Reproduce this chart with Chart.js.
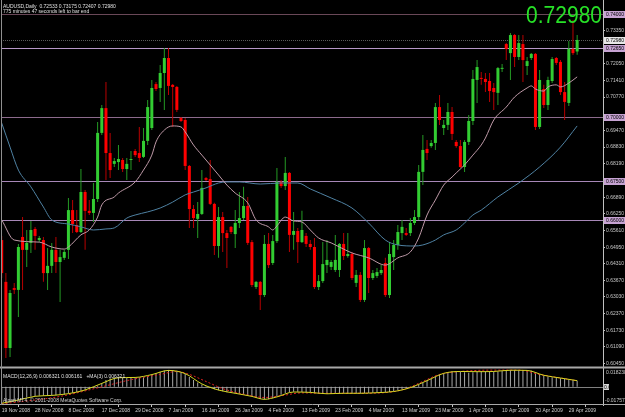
<!DOCTYPE html>
<html><head><meta charset="utf-8">
<script src="https://cdn.jsdelivr.net/npm/chart.js@4/dist/chart.umd.min.js"></script>
<style>html,body{margin:0;padding:0;background:#000;overflow:hidden}</style>
</head><body>
<canvas id="c" width="625" height="417"></canvas>
<script>
// ---- categories (daily bars, incl. Sunday sessions) ----
const monthDays = [
  ['Nov', 2008, [19,20,21,23,24,25,26,27,28,30]],
  ['Dec', 2008, [1,2,3,4,5,7,8,9,10,11,12,14,15,16,17,18,19,21,22,23,24,28,29,30,31]],
  ['Jan', 2009, [1,2,4,5,6,7,8,9,11,12,13,14,15,16,18,19,20,21,22,23,25,26,27,28,29,30]],
  ['Feb', 2009, [1,2,3,4,5,6,8,9,10,11,12,13,15,16,17,18,19,20,22,23,24,25,26,27]],
  ['Mar', 2009, [1,2,3,4,5,6,8,9,10,11,12,13,15,16,17,18,19,20,22,23,24,25,26,27,29,30,31]],
  ['Apr', 2009, [1,2,3,5,6,7,8,9,10,12,13,14,15,16,17,19,20,21,22,23,24,26,27,28,29,30]],
  ['May', 2009, [1]]
];
const dates = [];
monthDays.forEach(([m, y, ds]) => ds.forEach(d => dates.push(d + ' ' + m + ' ' + y)));

// ---- AUDUSD daily OHLC ----
const opens = [0.6523,0.6361,0.6105,0.6337,0.6330,0.6535,0.6485,0.6512,0.6566,0.6523,
0.6523,0.6395,0.6423,0.6485,0.6438,0.6454,0.6485,0.6639,0.6581,0.6554,
0.6709,0.6636,0.6628,0.6682,0.6938,0.7034,0.6860,0.6818,0.6825,0.6833,
0.6798,0.6833,0.6868,0.6860,0.6845,0.6907,0.6957,0.7127,0.7112,0.7170,
0.7228,0.7124,0.7116,0.6996,0.6988,0.6810,0.6643,0.6605,0.6624,0.6763,
0.6759,0.6663,0.6500,0.6612,0.6550,0.6574,0.6546,0.6589,0.6608,0.6655,
0.6515,0.6341,0.6361,0.6310,0.6508,0.6434,0.6519,0.6748,0.6732,0.6783,
0.6543,0.6558,0.6515,0.6539,0.6508,0.6496,0.6341,0.6364,0.6426,0.6419,
0.6407,0.6407,0.6508,0.6461,0.6469,0.6357,0.6388,0.6291,0.6492,0.6376,
0.6384,0.6395,0.6434,0.6310,0.6457,0.6504,0.6550,0.6550,0.6550,0.6589,
0.6612,0.6787,0.6876,0.6887,0.6899,0.7038,0.6957,0.6969,0.7019,0.6903,
0.6887,0.6806,0.6903,0.6984,0.7143,0.7151,0.7147,0.7139,0.7112,0.7093,
0.7186,0.7282,0.7247,0.7317,0.7232,0.7282,0.7197,0.7228,0.7244,0.6961,
0.7108,0.7046,0.7139,0.7228,0.7213,0.7096,0.7054,0.7263,0.72533];
const highs = [0.6539,0.6395,0.6330,0.6357,0.6508,0.6612,0.6562,0.6597,0.6574,0.6539,
0.6535,0.6492,0.6512,0.6535,0.6485,0.6485,0.6686,0.6678,0.6639,0.6798,
0.6717,0.6678,0.6744,0.6980,0.7046,0.7135,0.6938,0.6841,0.6891,0.6841,
0.6841,0.6868,0.6876,0.6961,0.6957,0.7065,0.7143,0.7135,0.7201,0.7267,
0.7267,0.7127,0.7120,0.7000,0.6996,0.6814,0.6659,0.6670,0.6794,0.6767,
0.6833,0.6667,0.6651,0.6632,0.6562,0.6577,0.6639,0.6709,0.6729,0.6690,
0.6523,0.6364,0.6364,0.6543,0.6550,0.6543,0.6802,0.6756,0.6845,0.6787,
0.6632,0.6570,0.6636,0.6550,0.6523,0.6531,0.6388,0.6515,0.6523,0.6446,
0.6543,0.6512,0.6550,0.6550,0.6477,0.6407,0.6399,0.6523,0.6496,0.6407,
0.6415,0.6426,0.6454,0.6515,0.6523,0.6581,0.6601,0.6570,0.6608,0.6639,
0.6814,0.6930,0.6910,0.6910,0.7054,0.7085,0.6988,0.7054,0.7038,0.6910,
0.6910,0.6910,0.7007,0.7182,0.7220,0.7174,0.7170,0.7170,0.7131,0.7193,
0.7205,0.7286,0.7325,0.7321,0.7317,0.7317,0.7232,0.7247,0.7247,0.7182,
0.7124,0.7155,0.7232,0.7232,0.7220,0.7135,0.7294,0.7375,0.73175];
const lows = [0.6376,0.6066,0.6070,0.6314,0.6225,0.6330,0.6419,0.6473,0.6485,0.6515,
0.6361,0.6330,0.6395,0.6395,0.6283,0.6446,0.6450,0.6550,0.6550,0.6550,
0.6485,0.6620,0.6593,0.6670,0.6930,0.6756,0.6763,0.6806,0.6794,0.6787,
0.6756,0.6794,0.6845,0.6825,0.6841,0.6891,0.6949,0.7100,0.7058,0.7027,
0.7085,0.6961,0.7019,0.6980,0.6794,0.6570,0.6570,0.6531,0.6620,0.6752,
0.6659,0.6465,0.6454,0.6477,0.6415,0.6546,0.6492,0.6570,0.6601,0.6504,
0.6341,0.6333,0.6252,0.6302,0.6415,0.6426,0.6512,0.6725,0.6717,0.6477,
0.6485,0.6434,0.6512,0.6496,0.6485,0.6333,0.6330,0.6357,0.6395,0.6407,
0.6399,0.6380,0.6446,0.6454,0.6368,0.6341,0.6283,0.6283,0.6318,0.6368,
0.6376,0.6388,0.6302,0.6299,0.6407,0.6485,0.6523,0.6539,0.6539,0.6581,
0.6601,0.6736,0.6833,0.6880,0.6872,0.6969,0.6930,0.6949,0.6910,0.6880,
0.6802,0.6787,0.6891,0.6969,0.7054,0.7124,0.7096,0.7058,0.7027,0.7046,
0.7174,0.7220,0.7143,0.7193,0.7220,0.7135,0.7162,0.7220,0.6949,0.6953,
0.7034,0.7027,0.7131,0.7201,0.7085,0.6988,0.7042,0.7240,0.72407];
const closes = [0.6395,0.6105,0.6318,0.6330,0.6496,0.6485,0.6512,0.6562,0.6539,0.6531,
0.6395,0.6423,0.6485,0.6438,0.6457,0.6477,0.6639,0.6585,0.6554,0.6709,
0.6636,0.6628,0.6682,0.6938,0.7034,0.6860,0.6794,0.6829,0.6837,0.6798,
0.6818,0.6837,0.6852,0.6841,0.6907,0.7038,0.7112,0.7108,0.7170,0.7228,
0.7120,0.7116,0.7027,0.6984,0.6810,0.6643,0.6608,0.6624,0.6725,0.6756,
0.6663,0.6500,0.6612,0.6550,0.6531,0.6554,0.6589,0.6608,0.6655,0.6512,
0.6349,0.6361,0.6310,0.6508,0.6426,0.6519,0.6748,0.6732,0.6783,0.6543,
0.6558,0.6515,0.6562,0.6508,0.6496,0.6341,0.6364,0.6430,0.6446,0.6438,
0.6446,0.6508,0.6461,0.6469,0.6376,0.6388,0.6291,0.6492,0.6376,0.6395,
0.6399,0.6407,0.6310,0.6469,0.6504,0.6554,0.6574,0.6543,0.6589,0.6612,
0.6787,0.6872,0.6860,0.6899,0.7038,0.6988,0.6969,0.7019,0.6934,0.6887,
0.6806,0.6903,0.6984,0.7147,0.7193,0.7147,0.7135,0.7100,0.7096,0.7189,
0.7189,0.7263,0.7317,0.7232,0.7286,0.7220,0.7216,0.7244,0.6961,0.7143,
0.7046,0.7143,0.7224,0.7209,0.7096,0.7058,0.7263,0.7247,0.72980];

// ---- moving averages (bar index -> value) ----
const maFast = {0:0.6601,3:0.6523,9:0.6515,12:0.6496,15:0.6488,16:0.6496,19:0.6543,21:0.6562,23:0.6612,24:0.6659,
27:0.6690,28:0.6705,32:0.6748,34:0.6794,36:0.6852,37:0.6903,39:0.6949,41:0.6965,43:0.6961,44:0.6942,
46:0.6891,48:0.6852,49:0.6833,52:0.6775,54:0.6736,56:0.6705,59:0.6667,61:0.6601,64:0.6574,65:0.6562,
66:0.6578,68:0.6612,70:0.6597,72:0.6593,74:0.6562,76:0.6531,79:0.6512,81:0.6496,84:0.6473,88:0.6454,
92:0.6426,95:0.6454,98:0.6477,100:0.6531,102:0.6620,104:0.6678,106:0.6736,108:0.6767,109:0.6783,111:0.6814,
113:0.6852,115:0.6891,116:0.6918,118:0.6988,121:0.7038,123:0.7077,126:0.7112,127:0.7120,128:0.7108,130:0.7100,
131:0.7116,133:0.7124,134:0.7116,136:0.7131,138:0.7155};
const maSlow = {0:0.6976,2:0.6883,4:0.6794,7:0.6729,10:0.6651,12:0.6601,16:0.6585,19:0.6574,22:0.6562,25:0.6566,
27:0.6570,30:0.6608,32:0.6620,35:0.6632,38:0.6647,41:0.6670,44:0.6698,46:0.6709,49:0.6725,52:0.6744,
54:0.6748,57:0.6748,62:0.6740,67:0.6744,71:0.6744,74:0.6721,79:0.6686,84:0.6647,88:0.6589,92:0.6523,
95:0.6504,99:0.6500,101:0.6504,104:0.6523,106:0.6543,109:0.6562,111:0.6589,113:0.6620,115:0.6639,119:0.6690,
124:0.6744,129:0.6806,134:0.6883,138:0.6965};

// ---- MACD(12,26,9) panel ----
const macd = [-0.0170,-0.0168,-0.0160,-0.0150,-0.0135,-0.0120,-0.0110,-0.0100,-0.0095,-0.0092,
-0.0092,-0.0090,-0.0088,-0.0085,-0.0082,-0.0078,-0.0068,-0.0060,-0.0052,-0.0040,
-0.0030,-0.0022,-0.0012,0.0010,0.0040,0.0070,0.0088,0.0093,0.0095,0.0095,
0.0095,0.0095,0.0096,0.0096,0.0098,0.0110,0.0128,0.0140,0.0155,0.0168,
0.0172,0.0172,0.0165,0.0150,0.0130,0.0100,0.0070,0.0045,0.0025,0.0005,
-0.0010,-0.0025,-0.0035,-0.0045,-0.0055,-0.0062,-0.0068,-0.0072,-0.0078,-0.0085,
-0.0100,-0.0112,-0.0125,-0.0130,-0.0128,-0.0118,-0.0098,-0.0080,-0.0065,-0.0055,
-0.0050,-0.0050,-0.0052,-0.0055,-0.0058,-0.0065,-0.0070,-0.0072,-0.0072,-0.0070,
-0.0068,-0.0066,-0.0065,-0.0065,-0.0066,-0.0066,-0.0067,-0.0063,-0.0062,-0.0061,
-0.0060,-0.0058,-0.0058,-0.0052,-0.0045,-0.0035,-0.0025,-0.0015,-0.0005,0.0008,
0.0025,0.0045,0.0065,0.0085,0.0105,0.0125,0.0140,0.0152,0.0160,0.0162,
0.0155,0.0148,0.0145,0.0150,0.0158,0.0160,0.0160,0.0158,0.0155,0.0158,
0.0162,0.0168,0.0172,0.0172,0.0172,0.0170,0.0168,0.0165,0.0150,0.0130,
0.0115,0.0105,0.0098,0.0095,0.0088,0.0080,0.0075,0.0072,0.0063];
const macdSignal = {0:-0.0175,14:-0.0098,24:0.0,31:0.0073,38:0.0127,42:0.0157,45:0.0127,49:0.0055,53:-0.0018,59:-0.0084,
63:-0.0109,67:-0.0091,72:-0.0062,78:-0.0066,86:-0.0066,93:-0.0055,97:-0.0018,101:0.0055,105:0.0127,110:0.0157,
118:0.0171,124:0.0171,129:0.0127,138:0.0062};
const macdMA3 = {0:-0.0168,4:-0.0135,8:-0.0097,12:-0.0088,16:-0.0070,20:-0.0032,24:0.0035,28:0.0093,32:0.0096,36:0.0125,
40:0.0168,44:0.0135,48:0.0030,52:-0.0033,56:-0.0066,60:-0.0098,63:-0.0128,66:-0.0103,70:-0.0053,74:-0.0057,
78:-0.0071,82:-0.0066,86:-0.0066,90:-0.0060,94:-0.0048,98:-0.0008,102:0.0063,106:0.0138,110:0.0157,114:0.0155,
118:0.0157,122:0.0170,126:0.0168,130:0.0118,134:0.0090,138:0.0063};

// ---- axis labels / levels ----
const priceTicks = [0.7335,0.7205,0.7141,0.7077,0.6947,0.6883,0.6819,0.6689,0.6625,0.6561,0.6495,0.6431,0.6367,0.6303,0.6237,0.6173,0.6109,0.6045];
const levels = [0.74, 0.7265, 0.70, 0.675, 0.66];
const bid = 0.72980;
const macdLabels = [0.018238, 0, -0.01757];
const dateTickIdx = [0,8,16,24,32,40,48,56,64,72,80,88,96,104,112,120,128,136];

// ---- build datasets ----
const idx = opens.map((_, i) => i);
const isUp = i => closes[i] >= opens[i];
const UP = '#32cd32', DN = '#ff0000', UPW = '#249a24', DNW = '#b80000';
const fromMap = m => Object.keys(m).map(k => ({x: +k, y: m[k]}));

const FONT = '"Liberation Sans", Arial, sans-serif';
Chart.defaults.font.family = FONT;

const panelTop = 369, panelBot = 404;           // MACD panel pixel band
const macdMax = macdLabels[0], macdMin = macdLabels[2];

const overlay = {
  id: 'overlay',
  beforeDatasetsDraw(chart) {
    const {ctx, chartArea: a, scales: {y}} = chart;
    ctx.save();
    const cols = ['#6a4858', '#b797c7', '#8c6a8c', '#a787b7', '#a787b7'];
    levels.forEach((v, k) => {
      const py = Math.round(y.getPixelForValue(v)) + 0.5;
      ctx.strokeStyle = cols[k]; ctx.lineWidth = 1;
      ctx.beginPath(); ctx.moveTo(a.left, py); ctx.lineTo(a.right, py); ctx.stroke();
    });
    const pb = Math.round(y.getPixelForValue(bid)) + 0.5;
    ctx.strokeStyle = '#5a5a5a'; ctx.setLineDash([1, 1]);
    ctx.beginPath(); ctx.moveTo(a.left, pb); ctx.lineTo(a.right, pb); ctx.stroke();
    ctx.setLineDash([]);
    const y2 = chart.scales.y2;
    const z = Math.round(y2.getPixelForValue(0)) + 0.5;
    ctx.strokeStyle = '#808080';
    ctx.beginPath(); ctx.moveTo(a.left, z); ctx.lineTo(a.right, z); ctx.stroke();
    ctx.restore();
  },
  afterDraw(chart) {
    const {ctx, chartArea: a, scales: {y, y2}} = chart;
    ctx.save();
    ctx.fillStyle = '#000';
    ctx.fillRect(a.left, 366, a.right - a.left, 3);
    ctx.strokeStyle = '#a8a8a8'; ctx.lineWidth = 2;
    ctx.beginPath(); ctx.moveTo(0, 367.5); ctx.lineTo(625, 367.5); ctx.stroke();
    ctx.lineWidth = 1;
    ctx.beginPath(); ctx.moveTo(0, 404.5); ctx.lineTo(625, 404.5); ctx.stroke();
    ctx.strokeStyle = '#909090';
    ctx.beginPath(); ctx.moveTo(1.5, 0); ctx.lineTo(1.5, 405); ctx.stroke();
    ctx.font = '5px ' + FONT; ctx.textBaseline = 'middle'; ctx.textAlign = 'left';
    levels.forEach(v => {
      const py = Math.round(y.getPixelForValue(v));
      ctx.fillStyle = '#c7a3d3'; ctx.fillRect(604, py - 3, 21, 7);
      ctx.fillStyle = '#000'; ctx.fillText(v.toFixed(5), 606, py + 0.5);
    });
    const pb = Math.round(y.getPixelForValue(bid));
    ctx.fillStyle = '#e8e8e8'; ctx.fillRect(604, pb - 3, 21, 7);
    ctx.fillStyle = '#000'; ctx.fillText(bid.toFixed(5), 606, pb + 0.5);
    ctx.fillStyle = '#c8c8c8';
    ctx.fillText(macdMax.toFixed(6), 606, panelTop + 4);
    ctx.fillText(macdMin.toFixed(5), 605, panelBot - 3);
    const z = Math.round(y2.getPixelForValue(0));
    ctx.fillStyle = '#d8d8d8'; ctx.fillRect(604, z - 3, 5, 6);
    ctx.fillStyle = '#000'; ctx.fillText('0.00', 604, z + 0.5);
    ctx.fillStyle = '#e0e0e0'; ctx.textBaseline = 'alphabetic';
    ctx.fillText('AUDUSD,Daily  0.72533 0.73175 0.72407 0.72980', 3, 7.5);
    ctx.fillText('775 minutes 47 seconds left to bar end', 3, 13);
    ctx.fillText('MACD(12,26,9) 0.006321 0.006161   +MA(3) 0.006321', 3, 377.5);
    ctx.fillStyle = '#d0d0d0';
    ctx.fillText('Alpari MT4, \u00A9 2001-2008 MetaQuotes Software Corp.', 3, 402);
    ctx.save();
    ctx.font = '24px ' + FONT; ctx.fillStyle = '#27e127'; ctx.textAlign = 'right';
    ctx.translate(602, 23); ctx.scale(0.875, 1);
    ctx.fillText(bid.toFixed(5), 0, 0);
    ctx.restore();
    ctx.restore();
  }
};

new Chart(document.getElementById('c'), {
  type: 'bar',
  data: {
    datasets: [
      { type: 'line', label: 'MA fast', data: fromMap(maFast), borderColor: '#bf9aa8', borderWidth: 1,
        pointRadius: 0, cubicInterpolationMode: 'monotone', yAxisID: 'y', order: 0 },
      { type: 'line', label: 'MA slow', data: fromMap(maSlow), borderColor: '#4f82a3', borderWidth: 1,
        pointRadius: 0, cubicInterpolationMode: 'monotone', yAxisID: 'y', order: 0 },
      { label: 'body', data: idx.map(i => ({x: i, y: [opens[i], closes[i]]})),
        backgroundColor: idx.map(i => isUp(i) ? UP : DN), barThickness: 3, minBarLength: 1,
        inflateAmount: 0, grouped: false, yAxisID: 'y', order: 1 },
      { label: 'wick', data: idx.map(i => ({x: i, y: [lows[i], highs[i]]})),
        backgroundColor: idx.map(i => isUp(i) ? UPW : DNW), barThickness: 1,
        inflateAmount: 0, grouped: false, yAxisID: 'y', order: 2 },
      { label: 'MACD', data: idx.map(i => ({x: i, y: macd[i]})), backgroundColor: '#a8a8a8',
        barThickness: 1, inflateAmount: 0, grouped: false, yAxisID: 'y2', order: 3 },
      { type: 'line', label: 'MA(3)', data: fromMap(macdMA3), borderColor: '#d8d820', borderWidth: 1,
        pointRadius: 0, cubicInterpolationMode: 'monotone', yAxisID: 'y2', order: 0 },
      { type: 'line', label: 'Signal', data: fromMap(macdSignal), borderColor: '#e02020', borderWidth: 1,
        borderDash: [2, 2], pointRadius: 0, cubicInterpolationMode: 'monotone', yAxisID: 'y2', order: 0 }
    ]
  },
  options: {
    responsive: false, animation: false, devicePixelRatio: 1,
    layout: { padding: { left: 1, right: 0, top: 0, bottom: 0 } },
    plugins: { legend: { display: false }, tooltip: { enabled: false } },
    scales: {
      x: {
        type: 'linear', min: -0.17, max: 144.2, offset: false,
        grid: { display: true, drawOnChartArea: false, drawTicks: true, tickLength: 2, color: '#c0c0c0' },
        border: { display: false },
        ticks: { color: '#d0d0d0', font: { size: 5 }, autoSkip: false, maxRotation: 0, minRotation: 0,
          align: 'start', padding: 1, callback: v => dates[v] || '' },
        afterBuildTicks: s => { s.ticks = dateTickIdx.map(v => ({ value: v })); },
        afterFit: s => { s.height = 12; s.paddingLeft = 0; s.paddingRight = 0; }
      },
      y: {
        position: 'right',
        min: 0.74527 - 405 * 0.0003873, max: 0.74527,
        grid: { display: true, drawOnChartArea: false, drawTicks: true, tickLength: 2, color: '#c0c0c0' },
        border: { display: true, color: '#c0c0c0' },
        ticks: { color: '#c8c8c8', font: { size: 5 }, autoSkip: false, padding: 1, callback: v => v.toFixed(5) },
        afterBuildTicks: s => { s.ticks = priceTicks.map(v => ({ value: v })); },
        afterFit: s => { s.width = 22; s.paddingTop = 0; s.paddingBottom = 0; }
      },
      y2: {
        display: false, position: 'right',
        max: macdMax + panelTop * (macdMax - macdMin) / (panelBot - panelTop),
        min: macdMin - (405 - panelBot) * (macdMax - macdMin) / (panelBot - panelTop)
      }
    }
  },
  plugins: [overlay]
});
</script>
</body></html>
